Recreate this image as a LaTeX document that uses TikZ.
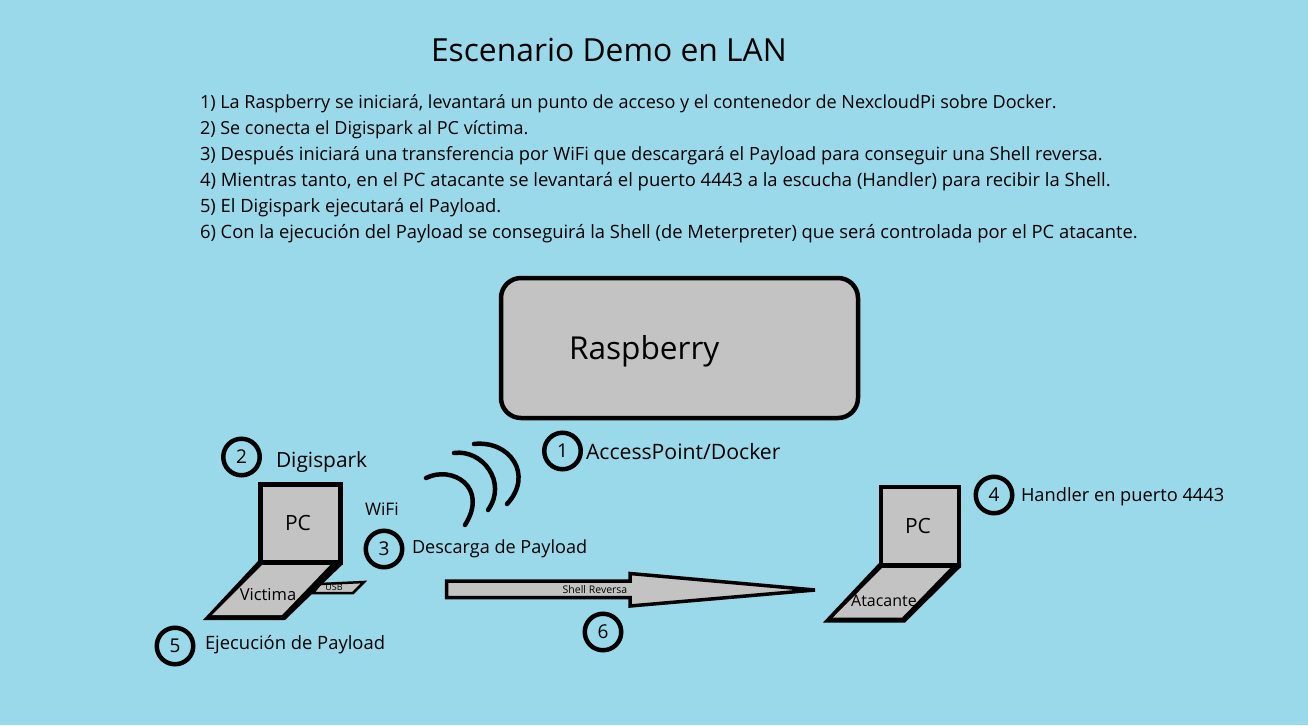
\documentclass[tikz,border=0pt]{standalone}
\usepackage{fontspec}
\setmainfont{Open Sans}
\definecolor{bgblue}{HTML}{99D9EA}
\definecolor{boxgrey}{HTML}{C3C3C3}
\newcommand{\pxfont}[1]{\fontsize{#1}{#1}\selectfont}
\tikzset{
  x=1pt,y=-1pt,
  txt/.style={anchor=base west,inner sep=0pt,outer sep=0pt,text=black},
  ctxt/.style={anchor=base,inner sep=0pt,outer sep=0pt,text=black},
  numc/.style={circle,draw=black,line width=4.5pt,minimum size=36.5pt,inner sep=0pt,font=\pxfont{19},text=black},
  part/.style={draw=black,fill=boxgrey,line join=miter,line width=5pt},
  deck/.style={fill=boxgrey,draw=none},
  base/.style={fill=black,draw=none},
  wave/.style={draw=black,line width=4.5pt,line cap=round},
}
\begin{document}
\begin{tikzpicture}
\useasboundingbox (0,0) rectangle (1308,725);
\fill[bgblue] (0,0) rectangle (1308,725);
\node[txt,font=\pxfont{31.8}] (title) at (431,61.5) {Escenario Demo en LAN};
\node[txt,font=\pxfont{18.05}] (l1) at (200,108.2) {1) La Raspberry se iniciará, levantará un punto de acceso y el contenedor de NexcloudPi sobre Docker.};
\node[txt,font=\pxfont{18}] (l2) at (200,134.2) {2) Se conecta el Digispark al PC víctima.};
\node[txt,font=\pxfont{18.26}] (l3) at (200,160.7) {3) Después iniciará una transferencia por WiFi que descargará el Payload para conseguir una Shell reversa.};
\node[txt,font=\pxfont{18.46}] (l4) at (200,186.7) {4) Mientras tanto, en el PC atacante se levantará el puerto 4443 a la escucha (Handler) para recibir la Shell.};
\node[txt,font=\pxfont{18.35}] (l5) at (200,212.2) {5) El Digispark ejecutará el Payload.};
\node[txt,font=\pxfont{18.36}] (l6) at (200,238.2) {6) Con la ejecución del Payload se conseguirá la Shell (de Meterpreter) que será controlada por el PC atacante.};
\draw[draw=black,fill=boxgrey,line width=4.5pt,rounded corners=20pt] (501,278) rectangle (858,418);
\node[txt,font=\pxfont{31.6}] (rasp) at (569,359) {Raspberry};
% left laptop
\draw[draw=black,fill=boxgrey,line width=2.5pt] (320,584) -- (364,582) -- (353,593) -- (313,593) -- cycle;
\draw[part] (260.5,484.5) rectangle (340,562.5);
\fill[base] (259,560) -- (342,560) -- (342,565) -- (285,620) -- (203,620) -- cycle;
\fill[deck] (262,565) -- (212,615) -- (282,615) -- (330,565) -- cycle;
\node[ctxt,font=\pxfont{21}] (pc1) at (298,530) {PC};
\node[ctxt,font=\pxfont{16.5}] (vic) at (268,600) {Victima};
\node[ctxt,font=\pxfont{9}] (usb) at (334,590) {USB};
% right laptop
\draw[part,line width=4.5pt] (881,487) rectangle (959,565.5);
\fill[base] (879,563) -- (961,563) -- (961,567) -- (905,622.5) -- (823,622.5) -- cycle;
\fill[deck] (882,568) -- (833,617.5) -- (902,617.5) -- (950,568) -- cycle;
\node[ctxt,font=\pxfont{21}] (pc2) at (918,533) {PC};
\node[ctxt,font=\pxfont{16}] (ata) at (884,606) {Atacante};
% arrow
\draw[draw=black,fill=boxgrey,line width=3.5pt,line join=miter] (446.5,581) -- (630,581) -- (630,573.5) -- (815,590) -- (630,606) -- (630,597.5) -- (446.5,597.5) -- cycle;
\node[ctxt,font=\pxfont{10.5}] (shell) at (595,593) {Shell Reversa};
% waves
\draw[wave] (426,478) .. controls (452,465) and (489,487) .. (465,525);
\draw[wave] (454,453) .. controls (482,449) and (508,482) .. (488,510);
\draw[wave] (474,444) .. controls (510,440) and (534,475) .. (507,504);
% numbers
\node[numc] (n1) at (562.5,451) {1};
\node[numc] (n2) at (241.5,457) {2};
\node[numc] (n3) at (384,549) {3};
\node[numc] (n4) at (994,495) {4};
\node[numc] (n5) at (175,646) {5};
\node[numc] (n6) at (603,632) {6};
\node[txt,font=\pxfont{21.2}] (t1) at (586,459) {AccessPoint/Docker};
\node[txt,font=\pxfont{20.9}] (t2) at (276,467) {Digispark};
\node[txt,font=\pxfont{18.1}] (t3) at (412,553) {Descarga de Payload};
\node[txt,font=\pxfont{18.25}] (t4) at (1021,501) {Handler en puerto 4443};
\node[txt,font=\pxfont{18.4}] (t5) at (205,649) {Ejecución de Payload};
\node[txt,font=\pxfont{17.3}] (wifi) at (365,515) {WiFi};
\end{tikzpicture}
\end{document}
